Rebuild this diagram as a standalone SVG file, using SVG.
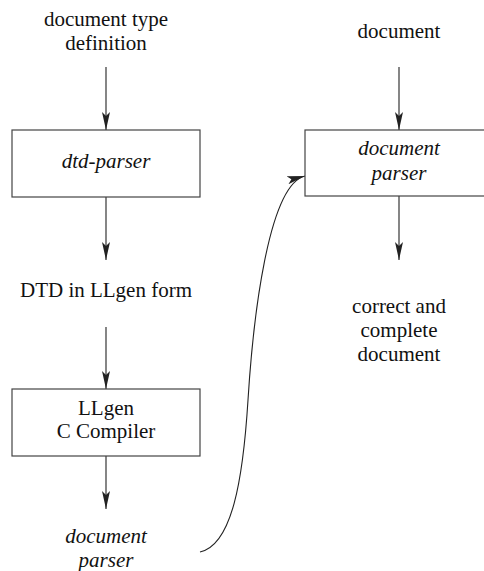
<svg xmlns="http://www.w3.org/2000/svg" width="484" height="571" viewBox="0 0 484 571">
<style>
text{font-family:"Liberation Serif",Tinos,"Times New Roman",Times,"Nimbus Roman","Nimbus Roman No9 L",FreeSerif,"DejaVu Serif","Noto Serif",serif;font-size:21px;fill:#111;text-anchor:middle}
.it{font-style:italic}
.box{fill:#fff;stroke:#444;stroke-width:1.2}
.ln{fill:none;stroke:#222;stroke-width:1.1}
</style>
<defs>
<marker id="ah" markerUnits="userSpaceOnUse" markerWidth="20" markerHeight="10" viewBox="-18 -5 20 10" refX="0" refY="0" orient="auto">
<path d="M0,0 L-18,-4 L-14,0 L-18,4 Z" fill="#222"/>
</marker>
</defs>
<rect width="484" height="571" fill="#fff"/>
<g id="connectors">
<line class="ln" x1="106" y1="67" x2="106" y2="130" marker-end="url(#ah)"/>
<line class="ln" x1="106" y1="197" x2="106" y2="260" marker-end="url(#ah)"/>
<line class="ln" x1="106" y1="327" x2="106" y2="389" marker-end="url(#ah)"/>
<line class="ln" x1="106" y1="456" x2="106" y2="509" marker-end="url(#ah)"/>
<line class="ln" x1="399" y1="67" x2="399" y2="130" marker-end="url(#ah)"/>
<line class="ln" x1="399" y1="196" x2="399" y2="260" marker-end="url(#ah)"/>
<path class="ln" d="M200,552 C232,545 243,480 248,400 C253,320 268,185 305,176" marker-end="url(#ah)"/>
</g>
<g id="dtd-definition">
<text x="106" y="26">document type</text>
<text x="106" y="50">definition</text>
</g>
<g id="dtd-parser">
<rect class="box" x="12" y="130" width="188" height="67"/>
<text class="it" x="106" y="168">dtd-parser</text>
</g>
<g id="dtd-llgen">
<text x="106" y="297">DTD in LLgen form</text>
</g>
<g id="llgen-compiler">
<rect class="box" x="12" y="389" width="188" height="67"/>
<text x="106" y="415">LLgen</text>
<text x="106" y="438">C Compiler</text>
</g>
<g id="document-parser-out">
<text class="it" x="106" y="543">document</text>
<text class="it" x="106" y="567">parser</text>
</g>
<g id="document">
<text x="399" y="38">document</text>
</g>
<g id="document-parser">
<rect class="box" x="305" y="130" width="188" height="66"/>
<text class="it" x="399" y="155">document</text>
<text class="it" x="399" y="180">parser</text>
</g>
<g id="result">
<text x="399" y="313">correct and</text>
<text x="399" y="337">complete</text>
<text x="399" y="361">document</text>
</g>
</svg>
